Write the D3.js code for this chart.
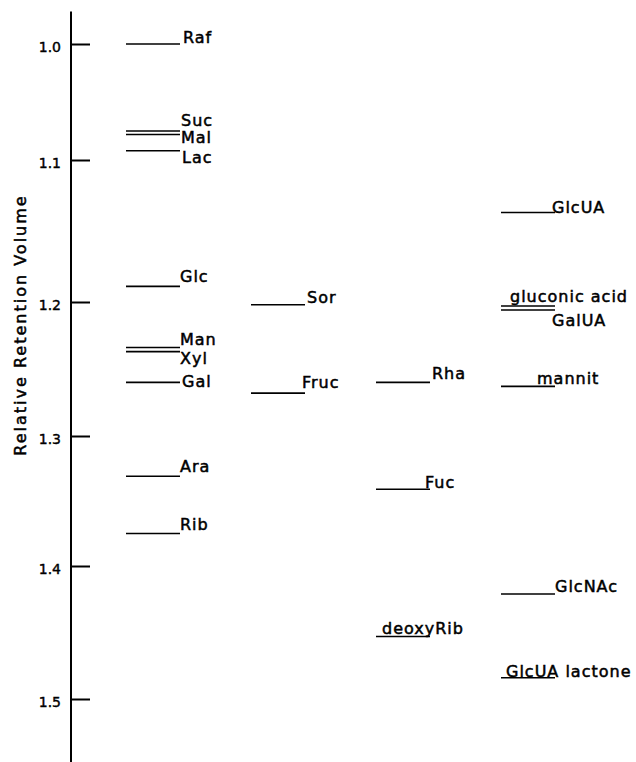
<!DOCTYPE html>
<html>
<head>
<meta charset="utf-8">
<style>
    body { margin: 0; background: #fff; }
    .axis path, .axis line { stroke: #000; stroke-width: 2px; }
    .axis text { font: 14px "DejaVu Sans", sans-serif; fill: #000; stroke: #000; stroke-width: 0.4px; }
    .peak { stroke: #000; stroke-width: 1.6px; }
    .peaklabel { font: 16px "DejaVu Sans", sans-serif; letter-spacing: 1px; fill: #000; stroke: #000; stroke-width: 0.5px; }
    .ylabel { font: 16px "DejaVu Sans", sans-serif; letter-spacing: 2px; fill: #000; stroke: #000; stroke-width: 0.5px; }
</style>
</head>
<body>
<div id="chart"></div>
<script src="https://cdn.jsdelivr.net/npm/d3@7"></script>
<script>
    // compounds, their relative retention volume and the column they are drawn in
    const compounds = ["Raf", "Suc", "Mal", "Lac", "Glc", "Man", "Xyl", "Gal", "Ara", "Rib",
        "Sor", "Fruc",
        "Rha", "Fuc", "deoxyRib",
        "GlcUA", "gluconic acid", "GalUA", "mannit", "GlcNAc", "GlcUA lactone"];
    const retention = [1.000, 1.075, 1.078, 1.092, 1.189, 1.234, 1.237, 1.260, 1.331, 1.375,
        1.202, 1.268,
        1.260, 1.341, 1.453,
        1.137, 1.203, 1.206, 1.263, 1.421, 1.484];
    const column = [0, 0, 0, 0, 0, 0, 0, 0, 0, 0,
        1, 1,
        2, 2, 2,
        3, 3, 3, 3, 3, 3];
    const tickValues = [1.0, 1.1, 1.2, 1.3, 1.4, 1.5];
    const axisExtent = [0.972, 1.548];
    const yTitle = "Relative Retention Volume";

    // label nudges from the end of each line [dx, dy]
    const labelNudge = {
        "Raf": [3, -1], "Suc": [1, -5], "Mal": [1, 9], "Lac": [2, 12], "Glc": [0, -4],
        "Man": [0, -3], "Xyl": [0, 12], "Gal": [2, 5], "Ara": [0, -4], "Rib": [0, -4],
        "Sor": [2, -2], "Fruc": [-3, -5], "Rha": [2, -3], "Fuc": [-5, -1], "deoxyRib": [-48, -2],
        "GlcUA": [-3, 0], "gluconic acid": [-45, -4], "GalUA": [-3, 16], "mannit": [-18, -2],
        "GlcNAc": [0, -2], "GlcUA lactone": [-49, -1]
    };

    const W = 636, H = 762;
    const lineLen = 54;

    const svg = d3.select("#chart").append("svg")
        .attr("width", W).attr("height", H);

    // hand drawn axis, spacing of the ticks is not even
    const y = d3.scaleLinear()
        .domain(tickValues)
        .range([44, 160, 302, 436, 566, 699]);

    const x = d3.scaleLinear().domain([0, 3]).range([126, 501]);

    const axisX = 71;

    // axis line
    svg.append("line")
        .attr("x1", axisX).attr("x2", axisX)
        .attr("y1", y(axisExtent[0])).attr("y2", y(axisExtent[1]))
        .attr("stroke", "#000").attr("stroke-width", 2);

    const axis = svg.append("g")
        .attr("class", "axis")
        .attr("transform", "translate(" + axisX + ",0)")
        .call(d3.axisLeft(y)
            .tickValues(tickValues)
            .tickSizeInner(-19)
            .tickSizeOuter(0)
            .tickPadding(10)
            .tickFormat(d3.format(".1f")));
    axis.select(".domain").remove();
    axis.selectAll("text").attr("dy", "0.55em");

    svg.append("text")
        .attr("class", "ylabel")
        .attr("transform", "translate(26,325) rotate(-90)")
        .attr("text-anchor", "middle")
        .text(yTitle);

    const data = compounds.map(function (name, i) {
        return { name: name, value: retention[i], col: column[i] };
    });

    const peak = svg.selectAll(".peakg")
        .data(data)
        .enter().append("g")
        .attr("class", "peakg");

    peak.append("line")
        .attr("class", "peak")
        .attr("x1", function (d) { return x(d.col); })
        .attr("x2", function (d) { return x(d.col) + lineLen; })
        .attr("y1", function (d) { return y(d.value); })
        .attr("y2", function (d) { return y(d.value); });

    peak.append("text")
        .attr("class", "peaklabel")
        .attr("x", function (d) { return x(d.col) + lineLen + labelNudge[d.name][0]; })
        .attr("y", function (d) { return y(d.value) + labelNudge[d.name][1]; })
        .text(function (d) { return d.name; });
</script>
</body>
</html>
